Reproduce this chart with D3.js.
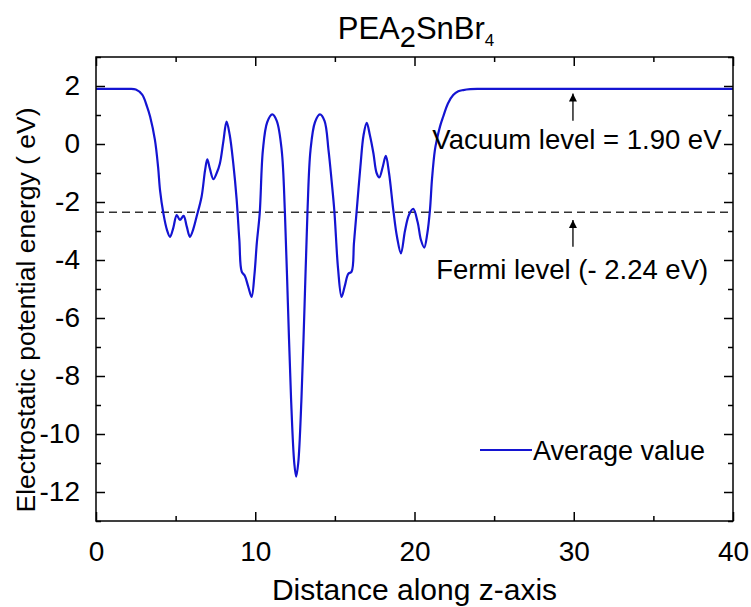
<!DOCTYPE html>
<html>
<head>
<meta charset="utf-8">
<script src="https://cdn.jsdelivr.net/npm/d3@7"></script>
<style>
  body { margin: 0; background: #fff; }
  text { font-family: "Liberation Sans", Arial, sans-serif; fill: #000; }
</style>
</head>
<body>
<script>
"use strict";

// distance along z (x) and averaged electrostatic potential (eV)
const distance = [0, 1, 2, 2.5, 2.9, 3.2, 3.4, 3.7, 3.9, 4.02, 4.23, 4.45, 4.65, 4.85, 5.07, 5.27, 5.5, 5.7, 5.9, 6.1,
  6.32, 6.63, 6.85, 6.99, 7.15, 7.37, 7.58, 7.78, 8.0, 8.2, 8.4, 8.62, 8.83, 9.0, 9.15, 9.35, 9.55, 9.77, 9.95, 10.1,
  10.28, 10.48, 10.75, 11.07, 11.35, 11.66, 11.86, 12.05, 12.25, 12.45, 12.57, 12.7, 12.9, 13.1, 13.28, 13.47, 13.75, 14.06, 14.35, 14.6,
  14.8, 14.97, 15.2, 15.42, 15.62, 15.84, 16.05, 16.2, 16.37, 16.6, 16.8, 17.0, 17.2, 17.42, 17.62, 17.79, 18.0, 18.2, 18.4, 18.67,
  18.9, 19.15, 19.4, 19.65, 19.92, 20.2, 20.4, 20.61, 20.8, 20.97, 21.1, 21.28, 21.4, 21.6, 21.8, 22.1, 22.43, 22.75, 23.06, 23.5,
  24, 30, 40];
const potential = [1.9, 1.9, 1.9, 1.88, 1.7, 1.3, 0.94, 0.14, -0.8, -1.59, -2.39, -2.95, -3.2, -2.9, -2.45, -2.62, -2.48, -2.85, -3.2, -2.95,
  -2.5, -1.82, -0.9, -0.53, -0.85, -1.21, -1.0, -0.67, 0.1, 0.77, 0.3, -0.67, -1.9, -3.3, -4.4, -4.55, -4.9, -5.27, -4.5, -3.4,
  -2.39, -0.21, 0.75, 1.02, 0.8, -0.21, -2.33, -5.5, -8.8, -11.0, -11.47, -11.0, -8.8, -5.5, -2.33, -0.21, 0.75, 1.02, 0.8, -0.21,
  -1.3, -2.33, -4.3, -5.27, -4.9, -4.48, -4.4, -3.4, -2.3, -0.8, 0.3, 0.73, 0.3, -0.32, -1.0, -1.15, -0.8, -0.41, -1.0, -2.28,
  -3.2, -3.77, -3.0, -2.45, -2.24, -2.7, -3.3, -3.57, -3.1, -2.28, -1.2, -0.21, 0.14, 0.6, 0.94, 1.4, 1.69, 1.82, 1.86, 1.89,
  1.9, 1.9, 1.9];

const xTicks = [0, 10, 20, 30, 40];
const xMinorTicks = [5, 15, 25, 35];
const yTicks = [-12, -10, -8, -6, -4, -2, 0, 2];
const yMinorTicks = [-13, -11, -9, -7, -5, -3, -1, 1, 3];

const vacuumLevel = 1.9;
const fermiLine = -2.35;
const vacuumLabel = "Vacuum level = 1.90 eV";
const fermiLabel = "Fermi level (- 2.24 eV)";

const W = 751, H = 607;
const margin = {top: 57, right: 18, bottom: 86, left: 96};
const width = W - margin.left - margin.right;
const height = H - margin.top - margin.bottom;

const svg = d3.select("body").append("svg")
    .attr("width", W)
    .attr("height", H);

const g = svg.append("g")
    .attr("transform", "translate(" + margin.left + "," + margin.top + ")");

const x = d3.scaleLinear().domain([0, 40]).range([0, width]);
const y = d3.scaleLinear().domain([-13, 3]).range([height, 0]);

// axes, ticks pointing inward on all four sides
function styleAxis(sel) {
  sel.select(".domain").remove();
  sel.selectAll("line").attr("stroke", "#000").attr("stroke-width", 1.5);
  sel.selectAll("text").style("font-size", "28px").attr("fill", "#000");
}

g.append("g").attr("transform", "translate(0," + height + ")")
    .call(d3.axisBottom(x).tickValues(xTicks).tickSizeInner(-9).tickPadding(20).tickFormat(d3.format("d")))
    .call(styleAxis);
g.append("g").attr("transform", "translate(0," + height + ")")
    .call(d3.axisBottom(x).tickValues(xMinorTicks).tickSizeInner(-5).tickFormat(""))
    .call(styleAxis);
g.append("g")
    .call(d3.axisTop(x).tickValues(xTicks).tickSizeInner(-9).tickFormat(""))
    .call(styleAxis);
g.append("g")
    .call(d3.axisTop(x).tickValues(xMinorTicks).tickSizeInner(-5).tickFormat(""))
    .call(styleAxis);

g.append("g")
    .call(d3.axisLeft(y).tickValues(yTicks).tickSizeInner(-9).tickPadding(16).tickFormat(d => d < 0 ? "-" + Math.abs(d) : d))
    .call(styleAxis);
g.append("g")
    .call(d3.axisLeft(y).tickValues(yMinorTicks).tickSizeInner(-5).tickFormat(""))
    .call(styleAxis);
g.append("g").attr("transform", "translate(" + width + ",0)")
    .call(d3.axisRight(y).tickValues(yTicks).tickSizeInner(-9).tickFormat(""))
    .call(styleAxis);
g.append("g").attr("transform", "translate(" + width + ",0)")
    .call(d3.axisRight(y).tickValues(yMinorTicks).tickSizeInner(-5).tickFormat(""))
    .call(styleAxis);

// fermi dashed line
g.append("line")
    .attr("x1", x(0)).attr("x2", x(40))
    .attr("y1", y(fermiLine)).attr("y2", y(fermiLine))
    .attr("stroke", "#333").attr("stroke-width", 1.5)
    .attr("stroke-dasharray", "8,5");

// potential curve
const points = distance.map((d, i) => [d, potential[i]]);
const line = d3.line()
    .x(d => x(d[0]))
    .y(d => y(d[1]))
    .curve(d3.curveCatmullRom.alpha(0.5));

g.append("path")
    .datum(points)
    .attr("fill", "none")
    .attr("stroke", "#1414d2")
    .attr("stroke-width", 2.2)
    .attr("stroke-linejoin", "round")
    .attr("d", line);

// frame
g.append("rect")
    .attr("width", width).attr("height", height)
    .attr("fill", "none").attr("stroke", "#000").attr("stroke-width", 1.5);

// arrows
svg.append("defs").append("marker")
    .attr("id", "head")
    .attr("viewBox", "0 0 10 10")
    .attr("refX", 10).attr("refY", 5)
    .attr("markerWidth", 8).attr("markerHeight", 9)
    .attr("markerUnits", "userSpaceOnUse")
    .attr("orient", "auto")
  .append("path")
    .attr("d", "M0,0 L10,5 L0,10 Z")
    .attr("fill", "#000");

const arrowX = 29.95;
[[0.8, vacuumLevel - 0.16], [-3.54, fermiLine - 0.27]].forEach(a => {
  g.append("line")
      .attr("x1", x(arrowX)).attr("x2", x(arrowX))
      .attr("y1", y(a[0])).attr("y2", y(a[1]))
      .attr("stroke", "#000").attr("stroke-width", 1.3)
      .attr("marker-end", "url(#head)");
});

g.append("text")
    .attr("x", x(30.2)).attr("y", y(-0.17))
    .attr("text-anchor", "middle")
    .style("font-size", "27.5px")
    .text(vacuumLabel);

g.append("text")
    .attr("x", x(29.9)).attr("y", y(-4.65))
    .attr("text-anchor", "middle")
    .style("font-size", "27.5px")
    .text(fermiLabel);

// legend
g.append("line")
    .attr("x1", 384).attr("x2", 436)
    .attr("y1", 393).attr("y2", 393)
    .attr("stroke", "#1414d2").attr("stroke-width", 2);
g.append("text")
    .attr("x", 437).attr("y", 403)
    .style("font-size", "27px")
    .text("Average value");

// title
const title = svg.append("text")
    .attr("x", 416).attr("y", 39)
    .attr("text-anchor", "middle")
    .style("font-size", "31px");
title.append("tspan").text("PEA");
title.append("tspan").attr("dy", 8).style("font-size", "29px").text("2");
title.append("tspan").attr("dy", -8).text("SnBr");
title.append("tspan").attr("dy", 7).style("font-size", "17px").text("4");

// axis titles
svg.append("text")
    .attr("x", margin.left + width / 2).attr("y", 600)
    .attr("text-anchor", "middle")
    .style("font-size", "30px")
    .text("Distance along z-axis");

svg.append("text")
    .attr("transform", "translate(35,310) rotate(-90)")
    .attr("text-anchor", "middle")
    .style("font-size", "26.5px")
    .text("Electrostatic potential energy ( eV)");
</script>
</body>
</html>
